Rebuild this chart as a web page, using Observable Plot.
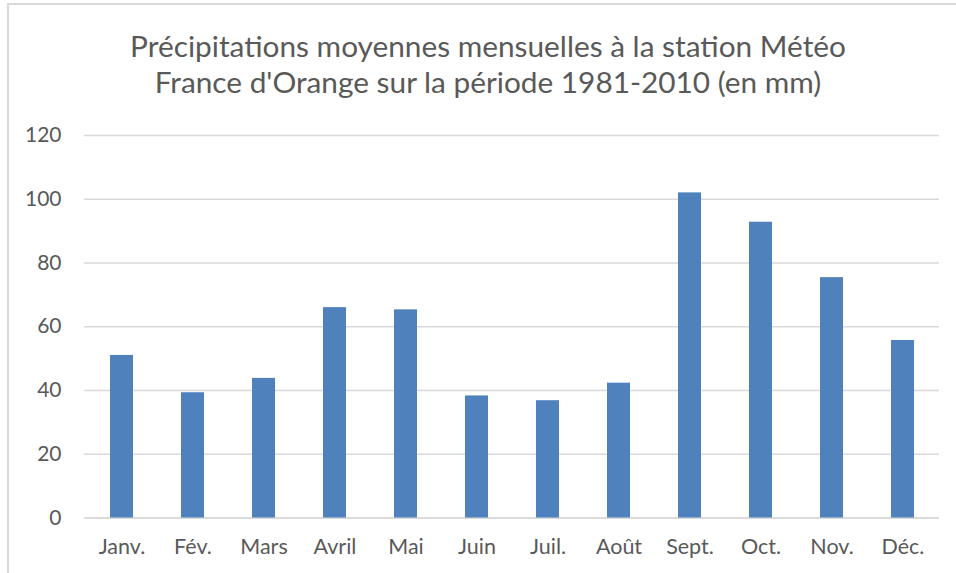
<!DOCTYPE html>
<html><head><meta charset="utf-8">
<script src="https://cdn.jsdelivr.net/npm/d3@7"></script>
<script src="https://cdn.jsdelivr.net/npm/@observablehq/plot@0.6"></script>
<style>
body{margin:0;background:#fff;}
#wrap{position:relative;width:956px;height:573px;overflow:hidden;background:#fff;}
#frame{position:absolute;left:7px;top:3px;width:1200px;height:1200px;border-left:2px solid #d9d9d9;border-top:2px solid #d9d9d9;pointer-events:none;}
#title{width:976px;height:110px;box-sizing:border-box;padding-top:28px;text-align:center;font-family:Lato,sans-serif;font-size:29.8px;line-height:36px;color:#595959;}
#chart svg{display:block;}
</style></head>
<body>
<div id="wrap">
<div id="title">Précipitations moyennes mensuelles à la station Météo<br>France d'Orange sur la période 1981-2010 (en mm)</div>
<div id="chart"></div>
<div id="frame"></div>
</div>
<script>
const months = ["Janv.","Fév.","Mars","Avril","Mai","Juin","Juil.","Août","Sept.","Oct.","Nov.","Déc."];
const precip = [51.0, 39.3, 43.8, 66.0, 65.3, 38.3, 36.8, 42.3, 102.0, 92.8, 75.4, 55.7];
const yTicks = [0, 20, 40, 60, 80, 100, 120];

const data = months.map((m, i) => ({month: m, value: precip[i]}));

const chart = Plot.plot({
  width: 956,
  height: 463,
  marginTop: 25,
  marginBottom: 55.5,
  marginLeft: 84,
  marginRight: 17,
  style: {fontFamily: "Lato, sans-serif", color: "#595959", background: "transparent"},
  x: {domain: months, paddingInner: 0.68, paddingOuter: 0.34, label: null},
  y: {domain: [0, 120], label: null},
  marks: [
    Plot.gridY(yTicks, {stroke: "#d9d9d9", strokeOpacity: 1, strokeWidth: 1.5}),
    Plot.ruleY([0], {stroke: "#d9d9d9", strokeWidth: 1.5}),
    Plot.barY(data, {x: "month", y: "value", fill: "#4f81bd"}),
    Plot.axisY(yTicks, {tickSize: 0, tickPadding: 23, fontSize: 21, label: null, fill: "#595959"}),
    Plot.axisX({tickSize: 0, tickPadding: 21, fontSize: 21.5, label: null, fill: "#595959"})
  ]
});
document.getElementById("chart").appendChild(chart);
</script>
</body></html>
